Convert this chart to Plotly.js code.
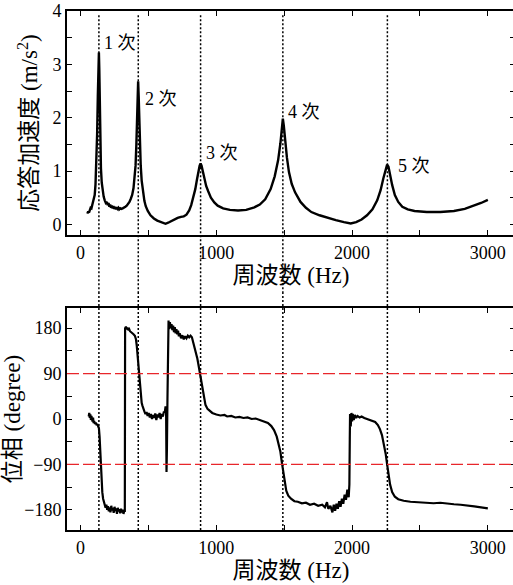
<!DOCTYPE html>
<html>
<head>
<meta charset="utf-8">
<script src="https://cdn.plot.ly/plotly-3.0.1.min.js"></script>
<style>
html,body{margin:0;padding:0;overflow:hidden;background:#fff;}
#top{position:absolute;left:0;top:0;width:520px;height:292px;}
#bot{position:absolute;left:0;top:292px;width:520px;height:293px;}
</style>
</head>
<body>
<div id="top"></div>
<div id="bot"></div>
<script>
// ---- data ----
const magFreq = [50,56,62,68,74,80,86,92,98,104,110,116,122,127,131,135,138,141,145,150,156,162,170,178,186,194,200,206,212,218,224,230,236,242,248,254,260,266,272,278,284,292,300,310,320,330,340,350,360,370,380,390,398,405,411,416,420,424,428,432,437,443,450,460,470,480,495,515,540,565,590,610,626,645,665,690,715,740,760,780,800,815,830,845,858,868,877,884,891,900,912,925,940,960,985,1010,1050,1100,1160,1220,1280,1320,1360,1400,1430,1455,1472,1484,1490,1497,1508,1520,1535,1555,1580,1620,1660,1700,1760,1820,1880,1940,1990,2030,2070,2110,2150,2185,2210,2230,2245,2258,2268,2280,2295,2315,2340,2370,2410,2460,2550,2650,2750,2830,2900,2950,3000];
const accel = [0.20,0.24,0.22,0.28,0.31,0.30,0.36,0.40,0.46,0.55,0.75,1.10,1.70,2.40,2.95,3.22,2.90,2.30,1.60,1.05,0.78,0.62,0.52,0.45,0.40,0.42,0.36,0.40,0.33,0.37,0.31,0.35,0.30,0.34,0.29,0.33,0.28,0.32,0.29,0.31,0.28,0.30,0.29,0.30,0.31,0.33,0.35,0.38,0.42,0.48,0.55,0.68,0.85,1.10,1.50,1.95,2.40,2.68,2.40,1.95,1.50,1.10,0.82,0.58,0.44,0.34,0.25,0.17,0.11,0.07,0.04,0.02,0.01,0.03,0.06,0.09,0.12,0.14,0.15,0.18,0.26,0.36,0.50,0.66,0.85,1.00,1.10,1.14,1.10,1.00,0.85,0.72,0.62,0.50,0.41,0.35,0.30,0.27,0.26,0.27,0.32,0.37,0.47,0.66,0.90,1.20,1.52,1.85,1.98,1.85,1.55,1.25,0.98,0.76,0.60,0.42,0.31,0.23,0.17,0.12,0.08,0.04,0.015,0.04,0.09,0.17,0.28,0.45,0.64,0.86,1.00,1.12,1.08,0.92,0.74,0.55,0.42,0.33,0.28,0.25,0.23,0.23,0.25,0.29,0.35,0.40,0.46];

const phaseFreq = [60,64,68,72,76,80,84,88,92,96,100,106,112,118,124,130,135,140,145,150,155,160,166,172,178,184,190,196,202,208,214,220,226,232,238,244,250,256,262,268,274,280,286,292,298,304,310,316,322,326,328,334,340,346,352,358,364,370,380,390,400,408,414,420,426,432,438,444,450,456,462,470,478,486,494,502,510,518,526,534,542,550,558,566,574,582,590,598,606,614,620,626,630,633,636,640,644,648,652,658,664,670,676,682,688,694,700,706,712,718,724,730,740,750,760,770,780,790,800,810,820,830,840,850,860,868,876,884,892,900,910,920,935,950,970,1000,1030,1060,1080,1110,1140,1170,1200,1230,1260,1290,1320,1350,1380,1405,1425,1445,1460,1472,1482,1492,1502,1515,1530,1550,1575,1600,1630,1660,1690,1720,1750,1780,1800,1815,1825,1840,1855,1865,1875,1885,1895,1905,1915,1925,1935,1945,1955,1965,1975,1980,1983,1985,1990,1995,2000,2005,2012,2020,2030,2040,2055,2070,2090,2110,2130,2150,2170,2190,2205,2220,2235,2248,2258,2268,2280,2295,2315,2340,2380,2430,2500,2560,2600,2650,2700,2750,2800,2850,2900,2950,3000];
const phase = [5,12,2,9,-2,6,0,-5,3,-8,-4,-10,-7,-12,-10,-15,-18,-35,-65,-100,-125,-145,-158,-165,-168,-176,-170,-180,-173,-183,-175,-185,-172,-181,-176,-186,-174,-182,-177,-188,-176,-183,-179,-187,-178,-185,-180,-188,-182,-182,180,183,178,181,176,178,174,173,170,168,165,158,145,125,100,80,58,42,32,26,20,15,10,14,6,12,3,10,0,8,2,11,-2,9,3,12,0,10,5,15,12,25,15,-105,-60,40,165,195,178,192,180,188,176,185,172,182,170,178,168,175,164,170,160,166,158,164,160,165,162,165,162,152,145,133,120,108,95,85,68,52,38,28,20,16,12,9,7,8,5,6,3,4,2,3,0,1,-2,-4,-8,-14,-22,-35,-50,-65,-85,-105,-125,-142,-152,-158,-163,-164,-167,-166,-170,-168,-172,-170,-175,-165,-178,-172,-185,-170,-182,-168,-178,-163,-174,-158,-168,-150,-160,-140,-155,-130,-40,10,-15,12,-5,10,-2,8,2,6,3,5,2,0,-1,-3,-6,-12,-20,-32,-50,-70,-90,-110,-130,-145,-154,-159,-162,-164,-165,-166,-167,-166,-168,-169,-170,-171,-173,-175,-177];

const modeFreqs = [135, 425, 884, 1490, 2260];
const modeLabels = ['1 次','2 次','3 次','4 次','5 次'];
const modeLabelFreq = [160, 462, 906, 1510, 2325];
const modeLabelVal = [3.40, 2.35, 1.33, 2.10, 1.09];
const refPhase = [90, -90];

const xTicks = [0, 1000, 2000, 3000];
const xTickText = ['0', '1000', '2000', '3000'];
const y1Ticks = [0, 1, 2, 3, 4];
const y1TickText = ['0', '1', '2', '3', '4'];
const y2Ticks = [-180, -90, 0, 90, 180];
const y2TickText = ['\u2212180', '\u221290', '0', '90', '180'];

// ---- chart ----
const serif = '"Liberation Serif", "DejaVu Serif", "Noto Sans CJK JP", serif';
const tickFont = {family: serif, size: 18, color: '#000'};
const titleFont = {family: serif, size: 23, color: '#000'};
const cfg = {staticPlot: true, displayModeBar: false};

function axis(extra, minorStep, mode) {
  const o = Object.assign({
    showgrid: false, zeroline: false, showline: true, linecolor: '#000', linewidth: 2,
    mirror: 'ticks', ticks: 'inside', ticklen: 5, tickwidth: 1, tickcolor: '#000',
    tickfont: tickFont
  }, extra);
  if (mode === 'full') {
    o.minor = {dtick: minorStep, ticks: 'inside', ticklen: 5, tickwidth: 1, tickcolor: '#000', showgrid: false};
  } else {
    delete o.tickvals; delete o.ticktext;
    o.tickmode = 'linear'; o.tick0 = 0; o.dtick = minorStep * 2;
  }
  return o;
}

// top panel: plot area 11..235 px of a 292 px tall div
function topLayout(mode) {
  return {
    width: 520, height: 292, margin: {l: 67, r: 5, t: 11, b: 57},
    paper_bgcolor: '#fff', plot_bgcolor: '#fff', showlegend: false,
    font: {family: serif, color: '#000'},
    xaxis: axis({range: [-100, 3200], tickvals: xTicks, ticktext: xTickText,
      title: {text: '周波数 (Hz)', font: titleFont, standoff: 4}}, 500, mode),
    yaxis: axis({range: [-0.2, 4], tickvals: y1Ticks, ticktext: y1TickText,
      title: {text: '応答加速度 (m/s<sup>2</sup>)', font: titleFont, standoff: 8}}, 0.5, mode)
  };
}
// bottom panel: plot area 308..530 px of the page, i.e. 16..238 of a 293 px div
function botLayout(mode) {
  return {
    width: 520, height: 293, margin: {l: 67, r: 5, t: 16, b: 55},
    paper_bgcolor: '#fff', plot_bgcolor: '#fff', showlegend: false,
    font: {family: serif, color: '#000'},
    xaxis: axis({range: [-100, 3200], tickvals: xTicks, ticktext: xTickText,
      title: {text: '周波数 (Hz)', font: titleFont, standoff: 4}}, 500, mode),
    yaxis: axis({range: [-220, 220], tickvals: y2Ticks, ticktext: y2TickText,
      title: {text: '位相 (degree)', font: titleFont, standoff: 8}}, 45, mode)
  };
}

const topTrace = {x: magFreq, y: accel, type: 'scatter', mode: 'lines',
  line: {color: '#000', width: 2.4}, hoverinfo: 'skip'};
const botTrace = {x: phaseFreq, y: phase, type: 'scatter', mode: 'lines',
  line: {color: '#000', width: 2.2}, hoverinfo: 'skip'};
const labelTrace = {x: modeLabelFreq, y: modeLabelVal, text: modeLabels, type: 'scatter',
  mode: 'text', textposition: 'middle right', hoverinfo: 'skip',
  textfont: {family: serif, size: 18, color: '#000'}, cliponaxis: false};

const dotLine = {color: '#000', width: 1.5, dash: '2px,2px'};
// dotted lines run from the top frame down through the gap to the bottom frame
const topShapes = modeFreqs.map(f => ({type: 'line', xref: 'x', yref: 'paper', x0: f, x1: f,
  y0: -0.26, y1: 0.99, line: dotLine}));
const botShapes = modeFreqs.map(f => ({type: 'line', xref: 'x', yref: 'paper', x0: f, x1: f,
  y0: 0, y1: 1.08, line: dotLine})).concat(refPhase.map(p => ({type: 'line', xref: 'paper',
  yref: 'y', x0: 0, x1: 1, y0: p, y1: p, line: {color: '#e8262b', width: 1.3, dash: '12px,4px'}})));

const annotations = modeLabels.map((t, i) => ({
  text: t, x: modeLabelFreq[i], y: modeLabelVal[i], xref: 'x', yref: 'y',
  xanchor: 'left', yanchor: 'middle', showarrow: false,
  font: {family: serif, size: 18, color: '#000'}
}));

function framesOk(gd) {
  const p = gd.querySelectorAll('.xlines-above, .ylines-above');
  if (p.length < 2) return false;
  for (const e of p) {
    const d = e.getAttribute('d');
    if (!d || (d.indexOf('H') < 0 && d.indexOf('V') < 0)) return false;
  }
  return true;
}

async function renderPanel(id, traces, layoutFn, shapes, anns) {
  const gd = document.getElementById(id);
  const variants = anns ? [{mode: 'full', ann: 'annot'}, {mode: 'full', ann: 'trace'}, {mode: 'plain', ann: 'trace'}]
                        : [{mode: 'full'}, {mode: 'plain'}];
  for (const v of variants) {
    try {
      Plotly.purge(gd);
      const L = layoutFn(v.mode);
      L.shapes = shapes;
      if (v.ann === 'annot') L.annotations = anns;
      const T = v.ann === 'trace' ? traces.concat([labelTrace]) : traces;
      await Plotly.newPlot(gd, T, L, cfg);
      if (framesOk(gd)) return;
    } catch (e) { /* try next variant */ }
  }
}

renderPanel('top', [topTrace], topLayout, topShapes, annotations);
renderPanel('bot', [botTrace], botLayout, botShapes, null);
</script>
</body>
</html>
